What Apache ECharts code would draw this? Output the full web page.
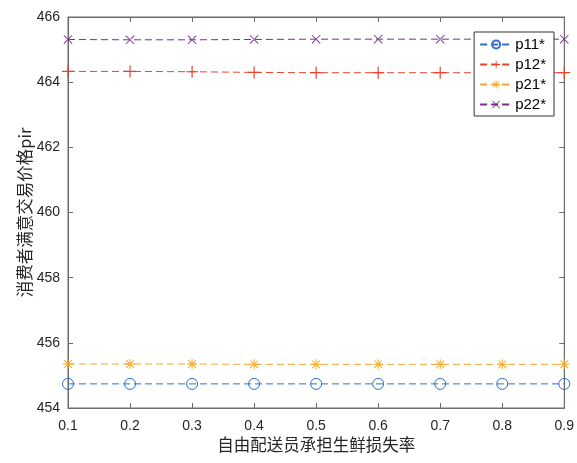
<!DOCTYPE html>
<html><head><meta charset="utf-8">
<script src="https://cdn.jsdelivr.net/npm/echarts@6/dist/echarts.min.js"></script>
<style>html,body{margin:0;padding:0;background:#fff}#c{width:577px;height:463px}</style>
</head><body><div id="c"></div>
<script>
var categories = ['0.1','0.2','0.3','0.4','0.5','0.6','0.7','0.8','0.9'];
var p11 = [454.74,454.74,454.74,454.74,454.74,454.74,454.74,454.74,454.74];
var p12 = [464.33,464.33,464.32,464.30,464.29,464.29,464.29,464.29,464.29];
var p21 = [455.35,455.35,455.35,455.34,455.34,455.34,455.34,455.34,455.34];
var p22 = [465.31,465.30,465.30,465.31,465.32,465.32,465.32,465.32,465.32];
var seriesNames = ['p11*','p12*','p21*','p22*'];
var yTicks = {min:454, max:466, interval:2};

var PLUS = 'path://M0,4.5H10V5.5H0Z M4.5,0H5.5V10H4.5Z';
var XS = 'path://M0,0.7L0.7,0L10,9.3L9.3,10Z M10,0.7L9.3,0L0,9.3L0.7,10Z';
var AST = 'path://M0,4.5H10V5.5H0Z M4.5,0H5.5V10H4.5Z M0.8,1.5L1.5,0.8L9.2,8.5L8.5,9.2Z M9.2,1.5L8.5,0.8L0.8,8.5L1.5,9.2Z';
var colors = ['#2f6fd4','#e8432f','#f2a830','#7b2d8e'];
var sym = ['circle', PLUS, AST, XS];
var symSize = [11, 12, 10, 9];
var datas = [p11,p12,p21,p22];

var series = datas.map(function(d,i){
  return {
    name: seriesNames[i], type:'line', data:d, symbol:sym[i], symbolSize:symSize[i],
    showAllSymbol:true,
    lineStyle:{color:colors[i], width:1, type:[7,4]},
    itemStyle:{color: i===0 ? 'rgba(255,255,255,0)' : colors[i], borderColor:colors[i], borderWidth: i===0?1:0},
    emphasis:{disabled:true}, animation:false
  };
});

var axisColor = '#6b6b6b';
var font = 'Liberation Sans, Arial, sans-serif';
var cjk = '"Noto Sans CJK SC", "Liberation Sans", sans-serif';
var chart = echarts.init(document.getElementById('c'), null, {renderer:'canvas'});
chart.setOption({
  animation:false,
  backgroundColor:'#fff',
  grid:{left:68, right:11, top:17, bottom:55, show:true, borderColor:axisColor, borderWidth:1, backgroundColor:'transparent'},
  legend:{
    orient:'vertical', right:23, top:32, data:seriesNames,
    itemWidth:32, itemHeight:10, itemGap:5,
    backgroundColor:'#fff', borderColor:'#333', borderWidth:1, borderRadius:0,
    padding:[5,8,4,5],
    textStyle:{fontFamily:font, fontSize:15, color:'#000', padding:[0,0,0,-2]}
  },
  xAxis:[{
    type:'category', data:categories, boundaryGap:false,
    name:'自由配送员承担生鲜损失率', nameLocation:'middle', nameGap:28, nameMoveOverlap:false,
    nameTextStyle:{fontFamily:cjk, fontSize:16.5, color:'#262626'},
    axisLine:{lineStyle:{color:axisColor}}, axisTick:{inside:true, length:5, lineStyle:{color:axisColor}},
    axisLabel:{fontFamily:font, fontSize:14, color:'#262626', margin:11}, splitLine:{show:false}
  },{
    type:'category', data:categories, boundaryGap:false, position:'top',
    axisLine:{lineStyle:{color:axisColor}}, axisTick:{inside:true, length:5, lineStyle:{color:axisColor}},
    axisLabel:{show:false}, splitLine:{show:false}
  }],
  yAxis:[{
    type:'value', min:yTicks.min, max:yTicks.max, interval:yTicks.interval,
    name:'消费者满意交易价格pir', nameLocation:'middle', nameGap:43, nameRotate:90, nameMoveOverlap:false,
    nameTextStyle:{fontFamily:cjk, fontSize:16.5, color:'#262626', verticalAlign:'middle'},
    axisLine:{show:true, lineStyle:{color:axisColor}}, axisTick:{show:true, inside:true, length:5, lineStyle:{color:axisColor}},
    axisLabel:{fontFamily:font, fontSize:14, color:'#262626', margin:8}, splitLine:{show:false}
  },{
    type:'value', min:yTicks.min, max:yTicks.max, interval:yTicks.interval, position:'right',
    axisLine:{show:true, lineStyle:{color:axisColor}}, axisTick:{show:true, inside:true, length:5, lineStyle:{color:axisColor}},
    axisLabel:{show:false}, splitLine:{show:false}
  }],
  series:series
});
</script></body></html>
